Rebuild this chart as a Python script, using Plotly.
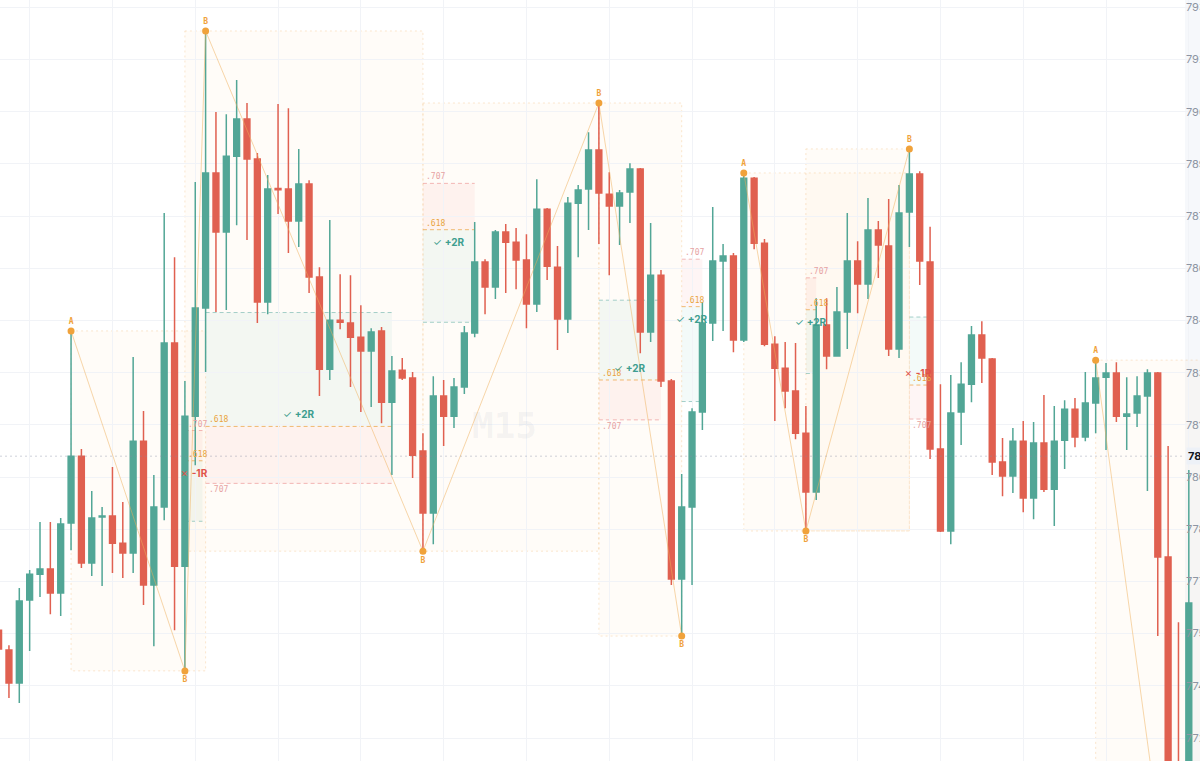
import plotly.graph_objects as go

# ---------------- data ----------------
bars = list(range(116))
open_ = [7756.0, 7750.3, 7740.8, 7764.7, 7772.1, 7773.6, 7766.7, 7786.8, 7806.0, 7775.3,
         7788.5, 7788.8, 7781.0, 7778.2, 7810.3, 7769.0, 7791.4, 7838.5, 7774.4, 7817.5,
         7848.6, 7887.4, 7870.4, 7892.2, 7902.9, 7891.4, 7850.3, 7882.9, 7882.8, 7873.6,
         7884.2, 7857.5, 7831.0, 7845.1, 7844.3, 7840.2, 7836.2, 7842.0, 7821.5, 7830.7,
         7828.5, 7807.5, 7789.7, 7823.3, 7817.5, 7825.9, 7841.4, 7861.8, 7854.6, 7870.4,
         7867.5, 7862.4, 7849.7, 7877.0, 7860.3, 7845.4, 7878.7, 7882.8, 7894.0, 7881.3,
         7877.9, 7881.9, 7888.5, 7841.7, 7858.0, 7827.6, 7770.7, 7791.4, 7818.7, 7844.3,
         7862.1, 7863.5, 7839.4, 7885.9, 7867.2, 7838.2, 7831.3, 7824.7, 7812.6, 7795.7,
         7843.7, 7834.8, 7847.4, 7862.1, 7855.5, 7871.0, 7866.4, 7836.8, 7876.2, 7887.1,
         7861.8, 7808.1, 7784.5, 7818.7, 7826.7, 7840.8, 7833.9, 7804.3, 7800.3, 7810.3,
         7794.0, 7809.8, 7796.5, 7810.6, 7819.5, 7811.5, 7821.3, 7828.7, 7829.9, 7817.5,
         7818.4, 7823.3, 7829.9, 7777.0, 7700.0, 7692.0]
high = [7756.6, 7751.7, 7768.1, 7773.3, 7787.1, 7787.1, 7788.2, 7842.0, 7808.1, 7796.0,
        7791.4, 7802.9, 7792.8, 7834.5, 7819.0, 7800.6, 7875.9, 7863.2, 7827.6, 7884.8,
        7928.2, 7904.9, 7904.3, 7914.1, 7907.5, 7893.1, 7886.8, 7907.2, 7906.0, 7894.3,
        7885.3, 7860.3, 7873.9, 7858.3, 7858.0, 7849.4, 7842.8, 7843.1, 7834.8, 7834.2,
        7830.2, 7812.6, 7829.0, 7827.9, 7828.5, 7843.4, 7873.3, 7862.6, 7871.0, 7872.7,
        7871.6, 7869.8, 7885.6, 7877.3, 7866.4, 7880.5, 7883.9, 7899.1, 7907.5, 7887.6,
        7882.5, 7890.2, 7888.8, 7873.0, 7859.5, 7828.2, 7800.9, 7819.8, 7850.3, 7877.6,
        7867.0, 7864.4, 7887.4, 7886.2, 7868.4, 7840.5, 7838.8, 7838.5, 7820.4, 7851.4,
        7851.4, 7854.6, 7875.9, 7867.8, 7880.2, 7873.6, 7879.9, 7883.9, 7894.3, 7887.9,
        7871.9, 7826.7, 7829.3, 7833.0, 7843.4, 7844.8, 7834.2, 7811.2, 7814.1, 7816.1,
        7815.8, 7823.6, 7820.4, 7822.1, 7822.7, 7830.2, 7833.6, 7832.8, 7833.0, 7828.7,
        7829.0, 7831.0, 7830.2, 7808.9, 7758.3, 7802.0]
low = [7748.8, 7736.5, 7735.1, 7750.0, 7765.5, 7760.6, 7760.1, 7779.0, 7773.9, 7771.6,
       7768.7, 7772.4, 7771.0, 7772.4, 7763.2, 7751.4, 7787.6, 7756.0, 7744.3, 7803.4,
       7830.2, 7847.4, 7848.0, 7872.4, 7868.1, 7844.3, 7846.8, 7875.6, 7864.4, 7866.1,
       7852.9, 7823.3, 7827.9, 7842.5, 7825.9, 7818.7, 7820.1, 7815.5, 7800.6, 7827.9,
       7799.7, 7778.7, 7780.7, 7808.9, 7814.1, 7823.9, 7840.2, 7846.8, 7851.2, 7852.9,
       7854.0, 7842.8, 7847.4, 7856.6, 7836.5, 7841.4, 7863.2, 7871.0, 7867.0, 7858.0,
       7866.7, 7873.0, 7835.6, 7838.8, 7825.9, 7769.0, 7754.3, 7769.0, 7813.5, 7839.1,
       7842.0, 7835.9, 7838.8, 7865.5, 7837.6, 7816.1, 7819.8, 7810.9, 7784.5, 7793.4,
       7831.0, 7834.6, 7836.8, 7847.1, 7851.2, 7857.2, 7834.8, 7834.2, 7866.1, 7855.2,
       7805.2, 7784.2, 7780.7, 7809.2, 7821.5, 7827.0, 7800.6, 7794.5, 7795.4, 7789.9,
       7787.9, 7795.7, 7785.9, 7802.3, 7808.6, 7810.3, 7812.6, 7807.8, 7815.8, 7807.8,
       7814.4, 7796.0, 7754.3, 7680.0, 7684.0, 7688.0]
close = [7750.6, 7740.8, 7764.4, 7772.1, 7773.6, 7766.7, 7786.5, 7806.0, 7775.3, 7788.2,
         7788.8, 7781.0, 7778.2, 7810.3, 7769.0, 7791.4, 7838.5, 7774.4, 7817.5, 7848.6,
         7887.4, 7870.4, 7892.2, 7902.9, 7891.4, 7850.3, 7882.8, 7882.6, 7873.6, 7884.2,
         7857.5, 7831.0, 7845.1, 7844.5, 7840.2, 7836.2, 7841.7, 7821.5, 7830.5, 7828.5,
         7806.3, 7789.7, 7823.3, 7817.5, 7825.9, 7841.4, 7861.8, 7854.6, 7870.4, 7867.5,
         7862.4, 7849.7, 7877.0, 7860.6, 7845.4, 7878.7, 7882.5, 7894.0, 7881.6, 7877.9,
         7881.6, 7888.5, 7841.7, 7858.0, 7827.6, 7770.7, 7791.4, 7818.7, 7844.3, 7862.1,
         7863.5, 7839.4, 7885.9, 7867.2, 7838.2, 7831.3, 7824.7, 7812.6, 7795.7, 7843.7,
         7834.8, 7847.4, 7862.1, 7855.5, 7871.0, 7866.7, 7836.8, 7875.9, 7887.1, 7862.1,
         7808.1, 7784.5, 7818.4, 7826.7, 7840.8, 7834.2, 7804.3, 7800.3, 7810.3, 7794.0,
         7809.8, 7796.5, 7810.3, 7819.5, 7811.5, 7821.3, 7828.5, 7829.9, 7817.5, 7818.1,
         7823.3, 7829.9, 7777.0, 7700.0, 7690.0, 7763.8]

# swing pivots (bar index, which extreme, label)
pivot_bar = [7, 18, 20, 41, 58, 66, 72, 78, 88, 106, 113]
pivot_kind = ["high", "low", "high", "low", "high", "low", "high", "low", "high", "high", "low"]
pivot_label = ["A", "B", "B", "B", "B", "B", "A", "B", "B", "A", "B"]

# zigzag paths (indices into the pivot lists)
zigzag_paths = [[0, 1, 2, 3, 4, 5], [6, 7, 8], [9, 10]]

# leg boxes: (pivot for one edge, pivot for the other edge), start bar, end bar
box_pivots = [(0, 1), (2, 3), (4, 3), (4, 5), (6, 7), (8, 7), (9, 10)]
box_start = [7, 18, 41, 58, 72, 78, 106]
box_end = [20, 41, 58, 66, 88, 88, 120]

# retracement trade zones: leg (start pivot, end pivot), last bar, outcome
zone_legs = [(0, 1), (1, 2), (2, 3), (3, 4), (4, 5), (6, 7), (7, 8)]
zone_end = [19.7, 38, 46, 64, 68, 79, 89.7]
zone_result = ["-1R", "+2R", "+2R", "+2R", "+2R", "+2R", "-1R"]
FIB_ENTRY = 0.618
FIB_STOP = 0.707
REWARD_R = 2

price_ticks = [7725, 7740, 7755, 7770, 7785, 7800, 7815, 7830, 7845, 7860, 7875, 7890, 7905, 7920, 7935]
tick_labels = ["7725.00", "7740.00", "7755.00", "7770.00", "7785.00", "7800.00", "7815.00", "7830.00",
               "7845.00", "7860.00", "7875.00", "7890.00", "7905.00", "7920.00", "7935.00"]
crosshair_price = 7806.0
crosshair_label = "7806.00"
watermark = "M15"

# ---------------- styles ----------------
GREEN = "#52a696"
RED = "#e06050"
ORANGE = "#f0a23b"
MONO = "DejaVu Sans Mono"
SANS = "Inter"
AXIS_POS = 0.9875

pivot_price = [high[b] if k == "high" else low[b] for b, k in zip(pivot_bar, pivot_kind)]

fig = go.Figure()
shapes = []
annotations = []

# price-axis strip
shapes.append(dict(type="rect", xref="paper", yref="paper", x0=AXIS_POS, x1=1, y0=0, y1=1,
                   fillcolor="#f6f8fb", line=dict(width=0), layer="below"))

# leg boxes
for (pa, pb), x0, x1 in zip(box_pivots, box_start, box_end):
    shapes.append(dict(type="rect", xref="x", yref="y", x0=x0, x1=x1,
                       y0=pivot_price[pa], y1=pivot_price[pb],
                       fillcolor="rgba(245,166,35,0.032)",
                       line=dict(color="rgba(240,165,70,0.25)", width=1, dash="2px,3px"),
                       layer="below"))

# trade zones
for (a, b), x1, res in zip(zone_legs, zone_end, zone_result):
    pa, pb = pivot_price[a], pivot_price[b]
    entry = pb + FIB_ENTRY * (pa - pb)
    stop = pb + FIB_STOP * (pa - pb)
    target = entry + REWARD_R * (entry - stop)
    x0 = pivot_bar[b]
    shapes.append(dict(type="rect", xref="x", yref="y", x0=x0, x1=x1, y0=entry, y1=stop,
                       fillcolor="rgba(239,83,80,0.06)", line=dict(width=0), layer="below"))
    shapes.append(dict(type="rect", xref="x", yref="y", x0=x0, x1=x1, y0=entry, y1=target,
                       fillcolor="rgba(38,166,154,0.055)", line=dict(width=0), layer="below"))
    for lvl, col in ((stop, "rgba(232,120,120,0.5)"), (entry, "rgba(236,160,60,0.7)"),
                     (target, "rgba(80,165,155,0.5)")):
        shapes.append(dict(type="line", xref="x", yref="y", x0=x0, x1=x1, y0=lvl, y1=lvl,
                           line=dict(color=col, width=1, dash="4px,3px"), layer="below"))
    short = stop > entry
    annotations.append(dict(x=x0, y=stop, xref="x", yref="y", text=".707", showarrow=False,
                            xanchor="left", yanchor="bottom" if short else "top", xshift=1,
                            font=dict(family=MONO, size=8, color="#e7a3a3")))
    annotations.append(dict(x=x0, y=entry, xref="x", yref="y", text=".618", showarrow=False,
                            xanchor="left", yanchor="bottom", xshift=1,
                            font=dict(family=MONO, size=8, color="#e9a440")))
    win = res.startswith("+")
    annotations.append(dict(x=(x0 + x1) / 2, y=entry, xref="x", yref="y",
                            text=("✓ " if win else "✗ ") + "<b>" + res + "</b>",
                            showarrow=False, xanchor="center", yanchor="middle",
                            yshift=12 if target > entry else -12,
                            font=dict(family=SANS, size=10, color="#3e9e8f" if win else "#e0524a")))

# crosshair line
shapes.append(dict(type="line", xref="paper", yref="y", x0=0, x1=AXIS_POS,
                   y0=crosshair_price, y1=crosshair_price,
                   line=dict(color="rgba(130,140,160,0.4)", width=1, dash="2px,3px")))

# candles
fig.add_trace(go.Candlestick(
    x=bars, open=open_, high=high, low=low, close=close,
    increasing=dict(line=dict(color=GREEN, width=1.5), fillcolor=GREEN),
    decreasing=dict(line=dict(color=RED, width=1.5), fillcolor=RED),
    whiskerwidth=0, showlegend=False, hoverinfo="skip"))

# zigzag
zx, zy = [], []
for path in zigzag_paths:
    for p in path:
        zx.append(pivot_bar[p])
        zy.append(pivot_price[p])
    zx.append(None)
    zy.append(None)
fig.add_trace(go.Scatter(x=zx, y=zy, mode="lines", line=dict(color="rgba(240,175,90,0.5)", width=1),
                         showlegend=False, hoverinfo="skip"))

# pivot markers and labels
for kind, pos in (("high", "top center"), ("low", "bottom center")):
    idx = [i for i, k in enumerate(pivot_kind) if k == kind]
    fig.add_trace(go.Scatter(
        x=[pivot_bar[i] for i in idx], y=[pivot_price[i] for i in idx],
        text=["<b>" + pivot_label[i] + "</b>" for i in idx],
        mode="markers+text", textposition=pos,
        marker=dict(color=ORANGE, size=7),
        textfont=dict(family=MONO, size=8, color=ORANGE),
        showlegend=False, hoverinfo="skip", cliponaxis=False))

# watermark
annotations.append(dict(x=0.4208, y=0.4415, xref="paper", yref="paper", text="<b>" + watermark + "</b>",
                        showarrow=False, xanchor="center", yanchor="middle",
                        font=dict(family=MONO, size=36, color="rgba(110,120,140,0.07)")))
# crosshair price label
annotations.append(dict(x=AXIS_POS, y=crosshair_price, xref="paper", yref="y",
                        text="<b>" + crosshair_label + "</b>", showarrow=False,
                        xanchor="left", yanchor="middle", xshift=1,
                        bgcolor="#edf1f7", font=dict(family=SANS, size=11, color="#131722")))

fig.update_layout(
    width=1200, height=761,
    margin=dict(l=0, r=0, t=0, b=0, pad=0),
    paper_bgcolor="white", plot_bgcolor="white",
    showlegend=False, boxgap=0.2,
    shapes=shapes, annotations=annotations,
    xaxis=dict(domain=[0, 1], range=[0.135, 116.08], showticklabels=False, ticks="",
               showgrid=True, gridcolor="#f1f3f7", tick0=3, dtick=8, zeroline=False,
               rangeslider=dict(visible=False), showline=False, automargin=False),
    yaxis=dict(domain=[0, 1], range=[7718.4, 7937.1], side="right", anchor="free", position=AXIS_POS,
               tickvals=price_ticks, ticktext=tick_labels, ticks="", automargin=False,
               tickfont=dict(family=SANS, size=11, color="#8d95a3"),
               showgrid=True, gridcolor="#f1f3f7", zeroline=False, showline=False),
)

fig.write_html("out.html",
               config={"displayModeBar": False},
               post_script="document.body.style.margin='0';document.body.style.padding='0';"
                           "document.body.style.overflow='hidden';")
